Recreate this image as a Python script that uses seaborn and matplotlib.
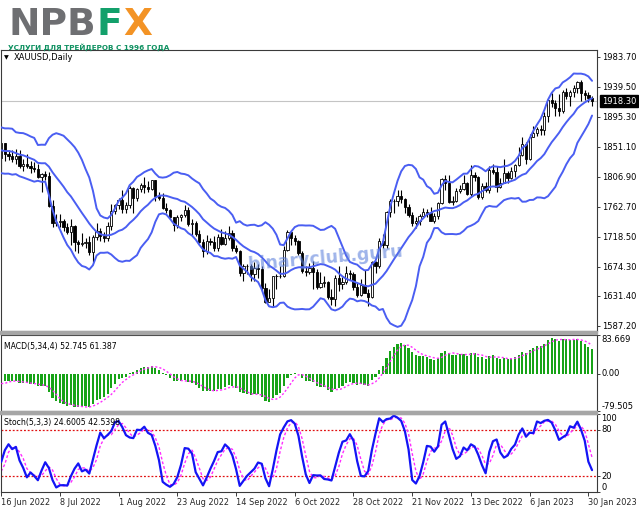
import numpy as np
import pandas as pd
import matplotlib.pyplot as plt
import seaborn as sns
from matplotlib.patches import Rectangle
from matplotlib.transforms import blended_transform_factory

# bars before the first visible day (1 Apr - 15 Jun 2022), only used to warm up the indicators
pre_high = [1940, 1939, 1945, 1932, 1936, 1948, 1958, 1970, 1981, 1978, 1998, 1982, 1960, 1957, 1957,
            1936, 1912, 1909, 1902, 1920, 1899, 1873, 1883, 1909, 1890, 1885, 1862, 1858, 1857, 1826,
            1828, 1832, 1822, 1847, 1849, 1865, 1869, 1867, 1858, 1858, 1859, 1858, 1850, 1871, 1874,
            1855, 1855, 1860, 1857, 1876, 1878, 1834, 1848]
pre_low = [1916, 1916, 1917, 1915, 1919, 1925, 1940, 1946, 1961, 1953, 1972, 1941, 1938, 1940, 1929,
           1891, 1894, 1881, 1872, 1888, 1850, 1851, 1859, 1863, 1865, 1849, 1833, 1832, 1821, 1798,
           1787, 1811, 1807, 1812, 1834, 1843, 1851, 1845, 1843, 1847, 1848, 1830, 1828, 1842, 1848,
           1836, 1837, 1847, 1843, 1825, 1820, 1805, 1804]
pre_close = [1925, 1933, 1923, 1925, 1931, 1945, 1954, 1966, 1977, 1973, 1979, 1950, 1958, 1951, 1931,
             1898, 1904, 1886, 1894, 1897, 1863, 1868, 1881, 1877, 1883, 1855, 1838, 1853, 1822, 1811,
             1824, 1815, 1816, 1841, 1846, 1853, 1866, 1853, 1850, 1853, 1856, 1837, 1847, 1869, 1851,
             1841, 1852, 1853, 1848, 1871, 1819, 1807, 1834]

# visible daily bars XAUUSD, 16 Jun 2022 - 31 Jan 2023
bar_open = [1834, 1857, 1840, 1838, 1833, 1838, 1822, 1826, 1823, 1820,
            1818, 1807, 1811, 1808, 1764, 1739, 1740, 1742, 1733, 1725,
            1735, 1711, 1708, 1709, 1711, 1696, 1718, 1727, 1719, 1717,
            1735, 1756, 1765, 1772, 1760, 1765, 1791, 1775, 1789, 1794,
            1792, 1789, 1802, 1779, 1776, 1761, 1758, 1747, 1736, 1748,
            1751, 1758, 1737, 1738, 1723, 1711, 1697, 1712, 1710, 1702,
            1718, 1708, 1716, 1724, 1702, 1697, 1665, 1675, 1676, 1664,
            1673, 1671, 1643, 1622, 1628, 1660, 1660, 1660, 1699, 1725,
            1716, 1712, 1695, 1668, 1666, 1673, 1666, 1644, 1650, 1652,
            1629, 1627, 1657, 1649, 1652, 1665, 1663, 1645, 1633, 1647,
            1636, 1630, 1681, 1676, 1712, 1706, 1755, 1771, 1771, 1779,
            1774, 1762, 1751, 1738, 1741, 1749, 1755, 1754, 1741, 1749,
            1768, 1803, 1797, 1769, 1771, 1786, 1789, 1797, 1781, 1810,
            1807, 1777, 1793, 1788, 1817, 1814, 1792, 1798, 1813, 1805,
            1815, 1824, 1839, 1855, 1833, 1866, 1872, 1877, 1876, 1897,
            1920, 1916, 1908, 1904, 1932, 1926, 1931, 1937, 1946, 1930,
            1928, 1923]
bar_high = [1857, 1857, 1846, 1847, 1848, 1846, 1833, 1841, 1830, 1829,
            1825, 1813, 1815, 1814, 1772, 1752, 1752, 1745, 1738, 1745,
            1736, 1714, 1724, 1717, 1719, 1721, 1739, 1731, 1725, 1740,
            1767, 1767, 1775, 1788, 1770, 1793, 1792, 1790, 1797, 1807,
            1800, 1802, 1802, 1785, 1783, 1768, 1759, 1748, 1750, 1752,
            1765, 1763, 1745, 1741, 1729, 1715, 1721, 1716, 1719, 1723,
            1730, 1727, 1735, 1729, 1707, 1699, 1679, 1679, 1678, 1681,
            1678, 1675, 1651, 1641, 1661, 1663, 1675, 1705, 1729, 1726,
            1721, 1714, 1697, 1676, 1680, 1682, 1671, 1667, 1660, 1653,
            1641, 1662, 1675, 1659, 1675, 1670, 1666, 1650, 1656, 1669,
            1642, 1682, 1683, 1717, 1722, 1756, 1774, 1774, 1787, 1787,
            1775, 1767, 1755, 1748, 1752, 1761, 1760, 1763, 1754, 1769,
            1805, 1810, 1810, 1779, 1790, 1795, 1810, 1799, 1824, 1814,
            1808, 1798, 1799, 1822, 1825, 1823, 1805, 1833, 1816, 1821,
            1826, 1850, 1865, 1858, 1870, 1881, 1880, 1883, 1902, 1922,
            1930, 1920, 1929, 1935, 1937, 1935, 1942, 1948, 1949, 1935,
            1931, 1926]
bar_low = [1816, 1830, 1831, 1829, 1825, 1820, 1816, 1820, 1812, 1814,
           1805, 1784, 1802, 1763, 1733, 1735, 1733, 1727, 1722, 1707,
           1697, 1695, 1705, 1702, 1692, 1681, 1713, 1712, 1711, 1712,
           1729, 1752, 1759, 1754, 1754, 1761, 1754, 1771, 1784, 1783,
           1784, 1787, 1771, 1772, 1759, 1753, 1744, 1727, 1731, 1742,
           1747, 1734, 1719, 1720, 1709, 1688, 1693, 1707, 1697, 1698,
           1706, 1706, 1714, 1697, 1695, 1660, 1654, 1663, 1654, 1653,
           1657, 1639, 1621, 1622, 1615, 1641, 1658, 1659, 1698, 1707,
           1707, 1691, 1665, 1660, 1663, 1642, 1641, 1643, 1645, 1627,
           1618, 1617, 1639, 1641, 1649, 1655, 1640, 1630, 1631, 1636,
           1616, 1628, 1665, 1673, 1702, 1702, 1748, 1754, 1764, 1768,
           1754, 1748, 1735, 1731, 1736, 1747, 1747, 1741, 1739, 1745,
           1767, 1787, 1768, 1765, 1770, 1783, 1788, 1780, 1779, 1801,
           1774, 1774, 1785, 1783, 1811, 1784, 1791, 1797, 1798, 1803,
           1807, 1823, 1838, 1825, 1832, 1865, 1867, 1868, 1868, 1888,
           1910, 1897, 1897, 1901, 1922, 1911, 1925, 1930, 1919, 1920,
           1917, 1911]
bar_close = [1857, 1840, 1838, 1833, 1838, 1822, 1826, 1823, 1820, 1818,
             1807, 1811, 1808, 1764, 1739, 1740, 1742, 1733, 1725, 1735,
             1711, 1708, 1709, 1711, 1696, 1718, 1727, 1719, 1717, 1735,
             1756, 1765, 1772, 1760, 1765, 1791, 1775, 1789, 1794, 1792,
             1789, 1802, 1779, 1776, 1761, 1758, 1747, 1736, 1748, 1751,
             1758, 1737, 1738, 1723, 1711, 1697, 1712, 1710, 1702, 1718,
             1708, 1716, 1724, 1702, 1697, 1665, 1675, 1676, 1664, 1673,
             1671, 1643, 1622, 1628, 1660, 1660, 1660, 1699, 1725, 1716,
             1712, 1695, 1668, 1666, 1673, 1666, 1644, 1650, 1652, 1629,
             1627, 1657, 1649, 1652, 1665, 1663, 1645, 1633, 1647, 1636,
             1630, 1681, 1676, 1712, 1706, 1755, 1771, 1771, 1779, 1774,
             1762, 1751, 1738, 1741, 1749, 1755, 1754, 1741, 1749, 1768,
             1803, 1797, 1769, 1771, 1786, 1789, 1797, 1781, 1810, 1807,
             1777, 1793, 1788, 1817, 1814, 1792, 1798, 1813, 1805, 1815,
             1824, 1839, 1855, 1833, 1866, 1872, 1877, 1876, 1897, 1920,
             1916, 1908, 1904, 1932, 1926, 1931, 1937, 1946, 1930, 1928,
             1923, 1918.3]

date_labels = ["16 Jun 2022", "8 Jul 2022", "1 Aug 2022", "23 Aug 2022", "14 Sep 2022", "6 Oct 2022",
               "28 Oct 2022", "21 Nov 2022", "13 Dec 2022", "6 Jan 2023", "30 Jan 2023"]
price_ticks = [1983.70, 1939.50, 1895.30, 1851.10, 1806.90, 1762.70, 1718.50, 1674.30, 1631.40, 1587.20]
last_price = 1918.30
macd_max, macd_min = 83.669, -79.505
macd_title = "MACD(5,34,4) 52.745 61.387"
stoch_title = "Stoch(5,3,3) 24.6005 42.5398"

sns.set_theme(style="white")
plt.rcParams['font.family'] = ['DejaVu Sans']

W, H = 639, 508
fig = plt.figure(figsize=(W / 100, H / 100), dpi=100, facecolor='white')


def fx(x):
    return x / W


def fy(y):
    return 1 - y / H


def panel(top, bottom):
    return fig.add_axes([fx(1), fy(bottom), 596 / W, (bottom - top) / H])


ax_p = panel(50, 331)
ax_m = panel(335, 411)
ax_s = panel(414, 492)

# indicators from the bars (warm-up bars included, then cut away)
n_pre = len(pre_close)
close = pd.Series(pre_close + bar_close, dtype=float)
high = pd.Series(pre_high + bar_high, dtype=float)
low = pd.Series(pre_low + bar_low, dtype=float)

mid = close.rolling(14).mean()
dev = close.rolling(14).std(ddof=0)
macd = close.ewm(span=5, adjust=False).mean() - close.ewm(span=34, adjust=False).mean()
signal = macd.rolling(4).mean()
hh = high.rolling(5).max()
ll = low.rolling(5).min()
k_line = 100 * (close - ll).rolling(3).sum() / (hh - ll).rolling(3).sum()
d_line = k_line.rolling(3).mean()

ind = pd.DataFrame({
    'upper': (mid + 2 * dev).values[n_pre:],
    'middle': mid.values[n_pre:],
    'lower': (mid - 2 * dev).values[n_pre:],
    'macd': macd.values[n_pre:],
    'signal': signal.values[n_pre:],
    'k': k_line.values[n_pre:],
    'd': d_line.values[n_pre:],
})
ind['bar'] = np.arange(len(ind))

# candles
o = np.array(bar_open, dtype=float)
c = np.array(bar_close, dtype=float)
x = np.arange(len(c))
up = c >= o
ax_p.axhline(last_price, color='#c4c4c4', lw=0.8, zorder=0.5)
ax_p.vlines(x, bar_low, bar_high, color='black', lw=0.8, zorder=2)
ax_p.bar(x[up], np.maximum(c - o, 0.4)[up], bottom=o[up], width=0.62,
         color='white', edgecolor='black', linewidth=0.6, zorder=2.5)
ax_p.bar(x[~up], (o - c)[~up], bottom=c[~up], width=0.62,
         color='black', edgecolor='black', linewidth=0.6, zorder=2.5)

band_color = '#4a5ef2'
for col in ['upper', 'middle', 'lower']:
    sns.lineplot(data=ind, x='bar', y=col, ax=ax_p, color=band_color, lw=1.4, zorder=3)

# MACD
ax_m.bar(ind['bar'], ind['macd'], width=0.6, color='#17a317', linewidth=0, zorder=2)
sns.lineplot(data=ind, x='bar', y='signal', ax=ax_m, color='#ff2cff', lw=1.0,
             linestyle=(0, (1.5, 1.5)), zorder=3)

# Stochastic
for lvl in (20, 80):
    ax_s.axhline(lvl, color='#e01010', lw=0.9, ls=(0, (1.5, 1.5)), zorder=1)
sns.lineplot(data=ind, x='bar', y='d', ax=ax_s, color='#ff2cff', lw=1.0,
             linestyle=(0, (2, 1.5)), zorder=2)
sns.lineplot(data=ind, x='bar', y='k', ax=ax_s, color='#1414f5', lw=1.6, zorder=3)

for ax in (ax_p, ax_m, ax_s):
    ax.set_xlim(-0.05, 162.35)
    ax.set_xlabel('')
    ax.set_ylabel('')
    ax.grid(False)
    ax.set_facecolor('white')
    for s in ax.spines.values():
        s.set_color('#3a3a3a')
        s.set_linewidth(0.8)
    ax.yaxis.tick_right()
    ax.tick_params(axis='y', right=True, left=False, length=2.5, width=0.7, color='#3a3a3a',
                   labelsize=6, pad=1.5, labelcolor='black')

ax_p.set_ylim(1579.6, 1993.6)
ax_p.set_yticks(price_ticks)
ax_p.set_yticklabels([f"{v:.2f}" for v in price_ticks])
ax_p.set_xticks([])

ax_m.set_ylim(macd_min, macd_max)
ax_m.set_yticks([macd_max, 0, macd_min])
ax_m.set_yticklabels([])
ax_m.set_xticks([])

ax_s.set_ylim(0, 100)
ax_s.set_yticks([0, 20, 80, 100])
ax_s.set_yticklabels([])
ax_s.set_xticks(np.arange(0, 161, 16))
ax_s.set_xticklabels(date_labels, fontsize=5.9, ha='left')
ax_s.tick_params(axis='x', bottom=True, length=3, width=0.7, color='#3a3a3a', pad=1.5)

lab_kw = dict(fontsize=6, ha='left', color='black')
tm = blended_transform_factory(ax_m.transAxes, ax_m.transData)
ax_m.text(1.007, macd_max, f"{macd_max:.3f}", transform=tm, va='top', **lab_kw)
ax_m.text(1.007, 0, "0.00", transform=tm, va='center', **lab_kw)
ax_m.text(1.007, macd_min, f"{macd_min:.3f}", transform=tm, va='bottom', **lab_kw)
ts = blended_transform_factory(ax_s.transAxes, ax_s.transData)
ax_s.text(1.007, 100, "100", transform=ts, va='top', **lab_kw)
ax_s.text(1.007, 80, "80", transform=ts, va='center', **lab_kw)
ax_s.text(1.007, 20, "20", transform=ts, va='center', **lab_kw)
ax_s.text(1.007, 0, "0", transform=ts, va='bottom', **lab_kw)

# current price box
fig.text(fx(602), fy(101), f"{last_price:.2f}", fontsize=6, color='white', va='center', ha='left',
         bbox=dict(boxstyle='square,pad=0.2', fc='black', ec='black'))

# window separators
for y0 in (331, 411):
    fig.patches.append(Rectangle((0, fy(y0 + 3)), fx(597), 3 / H, transform=fig.transFigure,
                                 color='#a6a6a6', zorder=5))

# panel titles
fig.text(fx(4), fy(58), "\u25bc", fontsize=4.5, va='center', ha='left', color='black')
fig.text(fx(14), fy(58), "XAUUSD,Daily", fontsize=6, va='center', ha='left', color='black')
fig.text(fx(4), fy(346), macd_title, fontsize=5.6, va='center', ha='left', color='black')
fig.text(fx(4), fy(423), stoch_title, fontsize=5.6, va='center', ha='left', color='black')

# watermark
fig.text(fx(325), fy(258), "binaryclub.guru", fontsize=12.5, fontweight='bold', color='#5f82dc',
         alpha=0.6, rotation=5, ha='center', va='center', zorder=10)

# logo
logo_kw = dict(fontsize=27, fontweight='bold', va='baseline', ha='left')
fig.text(fx(8), fy(35), "NPB", color='#6e6f72', **logo_kw)
fig.text(fx(97), fy(35), "F", color='#13a06b', **logo_kw)
fig.text(fx(123), fy(35), "X", color='#f39325', **logo_kw)
fig.text(fx(8), fy(49.5), "УСЛУГИ ДЛЯ ТРЕЙДЕРОВ С 1996 ГОДА", fontsize=5.2, fontweight='bold',
         color='#0f9161', va='baseline', ha='left')

fig.savefig('out.png', dpi=100, facecolor='white')
